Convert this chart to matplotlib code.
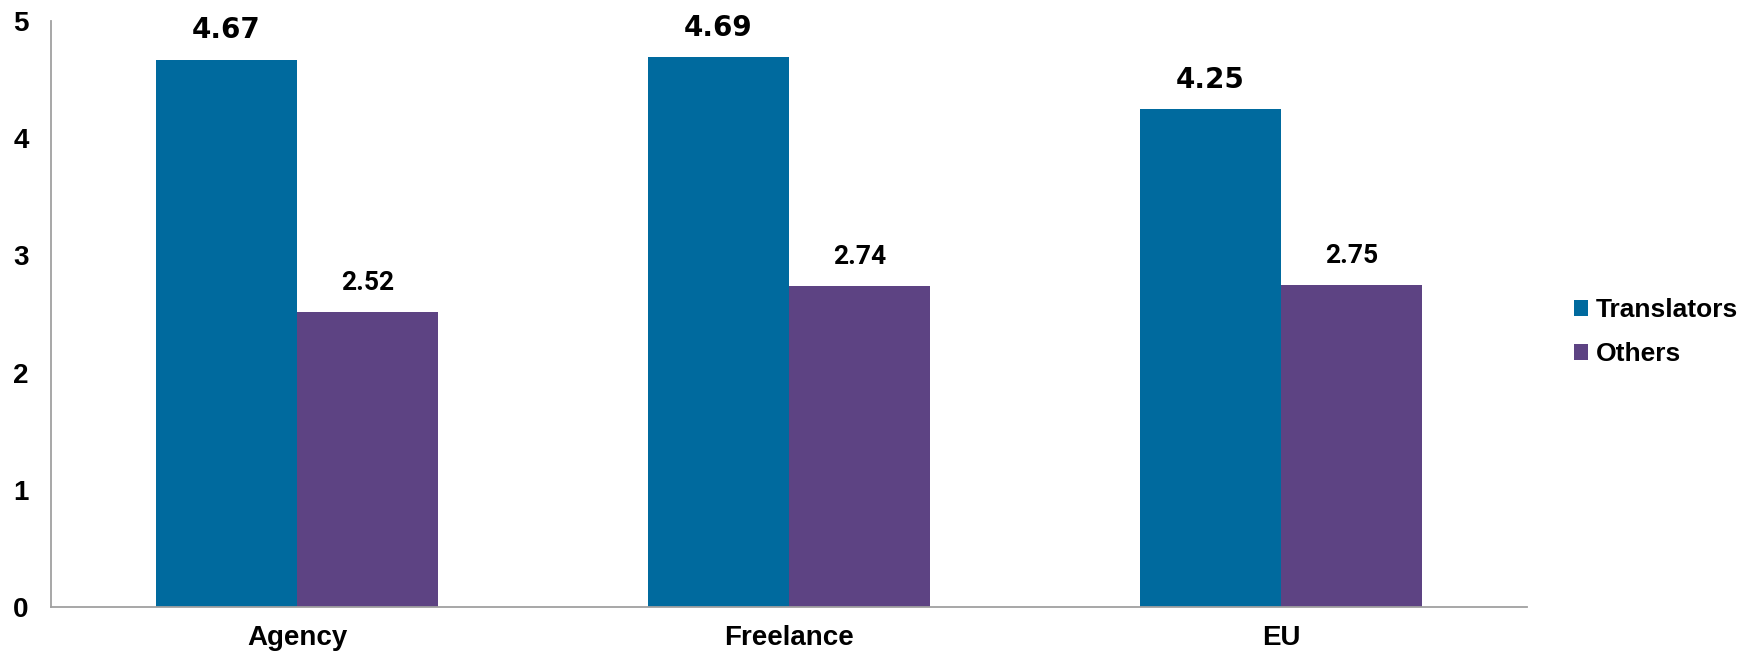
import matplotlib
matplotlib.use("Agg")
import matplotlib.pyplot as plt
import numpy as np

categories = ["Agency", "Freelance", "EU"]
translators = [4.67, 4.69, 4.25]
others = [2.52, 2.74, 2.75]

c_trans = "#006a9e"
c_oth = "#5d4383"

fig = plt.figure(figsize=(17.55, 6.56), dpi=100)
ax = fig.add_axes([51 / 1755, 49 / 656, (1527 - 51) / 1755, (607 - 21) / 656])

x = np.arange(len(categories))
w = 0.2865
b1 = ax.bar(x - w / 2, translators, w, color=c_trans, label="Translators")
b2 = ax.bar(x + w / 2, others, w, color=c_oth, label="Others")

for rect, v in zip(b1, translators):
    ax.annotate(f"{v:.2f}", (rect.get_x() + rect.get_width() / 2, v),
                xytext=(0, 11), textcoords="offset points", ha="center", va="bottom",
                fontsize=20, fontweight="bold", family="DejaVu Sans")
for rect, v in zip(b2, others):
    ax.annotate(f"{v:.2f}", (rect.get_x() + rect.get_width() / 2, v),
                xytext=(0, 12), textcoords="offset points", ha="center", va="bottom",
                fontsize=19, fontweight="bold", family="Roboto")

ax.set_xlim(-0.5, 2.5)
ax.set_ylim(0, 5)
ax.set_yticks(range(6))
ax.set_xticks(x)
ax.set_xticklabels(categories)
for lab in ax.get_xticklabels() + ax.get_yticklabels():
    lab.set_family("Liberation Sans")
    lab.set_fontweight("bold")
    lab.set_fontsize(20)
ax.tick_params(axis="y", length=0, pad=16)
ax.tick_params(axis="x", length=0, pad=13)

for s in ["top", "right"]:
    ax.spines[s].set_visible(False)
for s in ["left", "bottom"]:
    ax.spines[s].set_color("#a0a0a0")
    ax.spines[s].set_linewidth(1.3)

fig.legend(handles=[b1, b2], loc="center left", bbox_to_anchor=(1550 / 1755, 1 - 332 / 656),
           frameon=False, prop={"family": "Liberation Sans", "weight": "bold", "size": 19},
           handlelength=0.55, handleheight=0.55, handletextpad=0.3, labelspacing=0.75)

fig.savefig("out.png", dpi=100)
